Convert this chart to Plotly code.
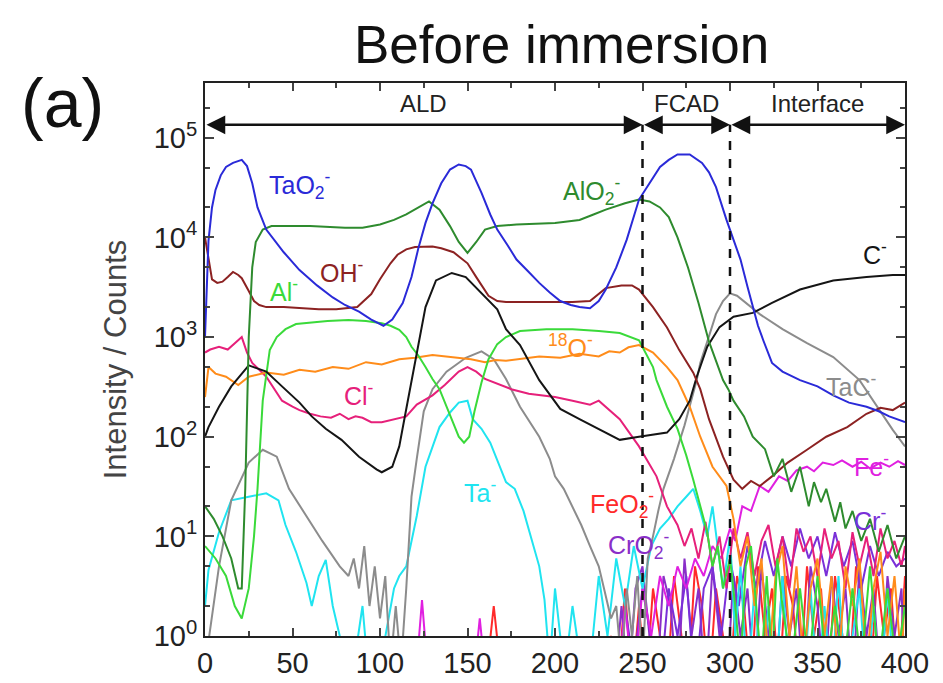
import plotly.graph_objects as go

# ---------------- data (depth, counts) ----------------
tao2_x = [0, 2, 4, 6, 9, 12, 16, 21, 24, 27, 30, 35, 45, 54, 64, 73, 80, 88, 95, 102, 107, 113, 118, 122, 126, 130, 135, 140, 145, 149, 152, 158, 163, 167, 173, 178, 185, 191, 197, 203, 209, 214, 220, 225, 229, 235, 241, 248, 254, 260, 265, 270, 277, 284, 288, 292, 298, 302, 306, 310, 313, 316, 319, 324, 330, 340, 350, 359, 368, 378, 385, 391, 400]
tao2_y = [1000, 9300, 20000, 30000, 42000, 51000, 56000, 60000, 52000, 35000, 20000, 12000, 7100, 4700, 3300, 2500, 2100, 1800, 1500, 1300, 1500, 2200, 4000, 7900, 14000, 22000, 35000, 48000, 54000, 52000, 48000, 28000, 17000, 12000, 8300, 6000, 4500, 3500, 2800, 2300, 2100, 2000, 1950, 2300, 3000, 5000, 9500, 24000, 35000, 51000, 60000, 68000, 68000, 56000, 45000, 32000, 15000, 9500, 6000, 3200, 2000, 1300, 930, 550, 450, 370, 320, 260, 220, 200, 180, 160, 140]

alo2_x = [0, 5, 10, 15, 19, 21, 23, 25, 27, 29, 33, 38, 45, 60, 80, 90, 100, 108, 115, 120, 128, 134, 140, 145, 150, 155, 160, 167, 178, 200, 214, 222, 229, 240, 248, 254, 260, 265, 270, 276, 282, 288, 293, 296, 299, 302, 308, 313, 320, 325, 330, 335, 340, 345, 348, 352, 355, 360, 363, 366, 370, 375, 380, 385, 390, 395, 400]
alo2_y = [20, 15, 10, 6, 3, 3, 30, 1000, 5000, 9000, 12000, 13000, 13000, 13000, 12500, 12500, 13500, 15000, 17000, 19000, 23000, 19000, 13000, 9000, 7000, 9000, 12000, 13000, 13500, 14000, 15000, 17000, 19000, 22000, 24000, 23000, 20000, 16000, 10000, 5000, 2200, 900, 500, 370, 300, 230, 160, 100, 75, 40, 60, 28, 50, 20, 35, 22, 30, 14, 22, 12, 18, 9, 15, 7, 13, 6, 10]

al_x = [0, 6, 12, 17, 21, 25, 28, 30, 33, 37, 41, 46, 52, 60, 70, 82, 92, 101, 106, 111, 115, 118, 122, 126, 130, 134, 138, 142, 145, 148, 151, 154, 158, 162, 167, 172, 180, 195, 210, 225, 237, 248, 256, 258, 264, 270, 275, 279, 283, 287, 290, 293, 296, 300, 303, 306, 309, 312, 315, 318, 321, 324, 327, 330, 335, 340, 345, 350, 355, 360, 365, 370, 375, 380, 385, 390, 395, 400]
al_y = [8, 6, 4, 2, 1.5, 3, 10, 30, 230, 740, 1000, 1200, 1350, 1400, 1450, 1480, 1450, 1380, 1300, 1180, 1000, 800, 650, 500, 380, 300, 200, 130, 100, 87, 100, 180, 350, 600, 850, 1000, 1150, 1200, 1200, 1150, 1100, 930, 500, 370, 200, 120, 65, 37, 20, 11, 5, 8, 3, 6, 2, 0.5, 5, 8, 2, 0.5, 4, 0.5, 6, 2, 0.5, 3, 0.5, 4, 0.5, 2, 0.5, 3, 0.5, 5, 0.5, 3, 0.5, 2]

oh_x = [0, 2, 4, 7, 10, 13, 16, 19, 21, 25, 28, 31, 35, 45, 55, 65, 75, 82, 87, 95, 100, 106, 110, 115, 120, 130, 135, 142, 150, 155, 162, 167, 172, 190, 210, 220, 229, 238, 244, 248, 256, 264, 271, 279, 283, 288, 296, 302, 307, 312, 317, 324, 333, 344, 355, 367, 378, 386, 393, 400]
oh_y = [10000, 6000, 3800, 3500, 3600, 4000, 4500, 4200, 3900, 2900, 2300, 2100, 2000, 2000, 1950, 1900, 1900, 1950, 2000, 2700, 3800, 5500, 6700, 7600, 8000, 8100, 7800, 7100, 5500, 4000, 2600, 2300, 2250, 2250, 2250, 2300, 3100, 3300, 3300, 3000, 2000, 1250, 740, 440, 300, 150, 63, 37, 30, 36, 32, 40, 55, 74, 100, 125, 170, 195, 185, 220]

c_x = [0, 2, 8, 15, 25, 35, 44, 54, 61, 69, 78, 88, 98, 101, 107, 111, 115, 121, 126, 132, 141, 149, 158, 167, 172, 180, 191, 203, 214, 225, 237, 248, 256, 264, 271, 277, 281, 287, 294, 302, 313, 324, 340, 359, 378, 393, 400]
c_y = [100, 125, 200, 320, 520, 450, 320, 220, 160, 120, 93, 63, 47, 44, 50, 80, 190, 690, 2000, 3700, 4400, 4000, 2750, 1900, 1200, 830, 370, 190, 150, 120, 93, 100, 105, 110, 150, 230, 400, 800, 1260, 1600, 1750, 2200, 3000, 3700, 4000, 4200, 4200]

tac_x = [0, 8, 15, 25, 33, 41, 48, 58, 67, 77, 82, 85, 88, 91, 94, 97, 100, 103, 106, 109, 112, 115, 118, 121, 125, 130, 138, 149, 158, 165, 172, 180, 191, 197, 200, 205, 210, 215, 220, 225, 228, 232, 235, 238, 241, 244, 247, 250, 253, 256, 259, 262, 268, 274, 281, 283, 287, 292, 296, 300, 304, 307, 317, 330, 344, 359, 374, 393, 400]
tac_y = [0.5, 5, 23, 55, 74, 63, 30, 16, 9, 5, 4, 6, 3, 8, 2, 5, 1.5, 4, 0.5, 2, 0.5, 3, 25, 60, 180, 300, 450, 620, 720, 600, 380, 200, 100, 60, 40, 30, 20, 13, 8, 5, 3, 1.5, 2, 0.5, 3, 1, 4, 0.5, 6, 10, 18, 30, 60, 130, 370, 550, 900, 1700, 2300, 2750, 2600, 2350, 1700, 1200, 870, 630, 370, 117, 80]

o18_x = [0, 2, 6, 12, 19, 25, 35, 45, 54, 63, 73, 82, 92, 101, 111, 120, 130, 137, 145, 152, 160, 166, 172, 181, 191, 203, 214, 225, 231, 237, 242, 248, 256, 264, 270, 277, 283, 290, 298, 302, 306, 310, 314, 318, 322, 326, 330, 334, 338, 342, 346, 350, 354, 358, 362, 366, 370, 374, 378, 382, 386, 390, 394, 398, 400]
o18_y = [250, 500, 430, 400, 330, 400, 440, 420, 470, 450, 500, 480, 560, 530, 600, 620, 660, 640, 620, 600, 560, 590, 580, 610, 640, 620, 680, 640, 720, 700, 790, 830, 700, 500, 370, 200, 100, 50, 32, 15, 5, 10, 2, 6, 0.5, 4, 8, 1, 5, 0.5, 3, 6, 1, 4, 0.5, 5, 2, 6, 0.5, 3, 7, 1, 4, 0.5, 3]

cl_x = [0, 3, 8, 13, 18, 21, 24, 27, 35, 44, 50, 54, 60, 66, 72, 77, 82, 86, 90, 95, 101, 108, 115, 121, 130, 137, 145, 150, 155, 160, 167, 175, 185, 200, 210, 220, 225, 237, 248, 258, 264, 270, 274, 278, 282, 286, 290, 294, 298, 302, 306, 310, 314, 318, 322, 326, 330, 334, 338, 342, 346, 350, 354, 358, 362, 366, 370, 374, 378, 382, 386, 390, 394, 398, 400]
cl_y = [700, 750, 800, 750, 900, 1000, 700, 550, 400, 230, 200, 185, 170, 160, 155, 170, 150, 160, 155, 140, 140, 150, 160, 210, 260, 330, 450, 500, 450, 380, 340, 300, 270, 250, 230, 210, 230, 150, 80, 40, 20, 13, 8, 12, 6, 14, 5, 10, 3, 12, 6, 11, 4, 9, 13, 5, 10, 3, 12, 7, 10, 4, 12, 6, 9, 3, 11, 5, 10, 4, 12, 6, 9, 5, 8]

ta_x = [0, 2, 8, 15, 25, 35, 42, 46, 52, 58, 61, 65, 69, 73, 77, 80, 85, 90, 93, 100, 108, 111, 115, 121, 126, 134, 140, 145, 150, 153, 158, 163, 172, 177, 182, 187, 191, 194, 197, 200, 203, 206, 210, 215, 220, 225, 230, 235, 240, 245, 250, 255, 260, 265, 270, 275, 279, 283, 287, 290, 293, 296, 300, 303, 306, 310, 314, 318, 322, 326, 330, 334, 338, 342, 346, 350, 354, 358, 362, 366, 370, 374, 378, 382, 386, 390, 394, 398, 400]
ta_y = [2, 4.6, 11, 23, 25, 27, 23, 13, 7, 3.4, 2, 4, 5.8, 2, 1, 0.5, 0.5, 2, 0.5, 0.5, 3, 4, 5, 16, 50, 125, 175, 220, 230, 150, 120, 87, 35, 30, 18, 9, 5, 2.3, 0.5, 3, 1, 0.5, 2, 0.5, 0.5, 4, 1, 6, 2, 8, 3, 8, 12, 15, 20, 25, 30, 18, 10, 20, 8, 3, 10, 1, 5, 0.3, 3, 0.3, 2, 0.3, 4, 0.3, 1, 0.3, 3, 0.3, 2, 0.3, 4, 0.3, 1, 3, 0.3, 2, 0.3, 3, 0.3, 1, 0.3]

feo2_x = [0, 160, 165, 170, 228, 232, 236, 240, 244, 248, 252, 256, 260, 264, 268, 272, 276, 280, 284, 288, 292, 296, 300, 304, 308, 312, 316, 320, 324, 328, 332, 336, 340, 344, 348, 352, 356, 360, 364, 368, 372, 376, 380, 384, 388, 392, 396, 400]
feo2_y = [0.3, 0.3, 2, 0.3, 0.3, 1, 0.3, 3, 0.3, 2, 0.3, 3, 1, 0.3, 4, 1, 0.3, 5, 2, 0.3, 3, 1, 0.3, 4, 2, 0.3, 5, 1, 3, 0.3, 4, 2, 0.3, 5, 1, 3, 0.3, 4, 1, 0.3, 5, 2, 0.3, 4, 1, 3, 0.3, 4]

cro2_x = [0, 234, 238, 242, 246, 250, 254, 258, 262, 266, 270, 274, 278, 282, 286, 290, 294, 298, 302, 306, 310, 314, 318, 322, 326, 330, 334, 338, 342, 346, 350, 354, 358, 362, 366, 370, 374, 378, 382, 386, 390, 394, 398, 400]
cro2_y = [0.3, 0.3, 2, 0.3, 3, 5, 1, 0.3, 4, 2, 0.3, 6, 1, 3, 0.3, 5, 1, 0.3, 4, 1, 3, 0.3, 5, 1, 0.3, 4, 1, 3, 0.3, 5, 2, 0.3, 4, 1, 3, 0.3, 5, 1, 3, 0.3, 4, 1, 3, 0.3]

cr_x = [0, 236, 240, 245, 250, 255, 260, 265, 270, 275, 280, 285, 290, 295, 300, 305, 310, 315, 320, 325, 330, 335, 340, 345, 350, 355, 360, 365, 370, 375, 380, 385, 390, 395, 400]
cr_y = [0.3, 0.3, 2, 0.5, 3, 1, 0.3, 3, 1, 4, 0.3, 3, 5, 1, 6, 2, 8, 3, 9, 4, 10, 5, 12, 6, 10, 4, 11, 5, 9, 3, 8, 4, 7, 5, 6]

fe_x = [0, 120, 124, 128, 153, 157, 161, 232, 236, 240, 245, 250, 255, 260, 265, 270, 275, 280, 285, 290, 295, 300, 303, 307, 312, 317, 322, 328, 333, 338, 344, 348, 353, 359, 364, 370, 375, 380, 386, 391, 396, 400]
fe_y = [0.3, 0.3, 2.3, 0.3, 0.3, 1.5, 0.3, 0.3, 0.3, 2, 0.3, 3, 1, 4, 2, 5, 3, 6, 4, 8, 6, 12, 9, 20, 18, 32, 28, 40, 36, 46, 50, 45, 55, 52, 58, 50, 56, 48, 55, 50, 57, 52]

# tick labels
ytick_vals = [1, 10, 100, 1000, 10000, 100000]
ytick_text = ["10<sup>0</sup>", "10<sup>1</sup>", "10<sup>2</sup>", "10<sup>3</sup>", "10<sup>4</sup>", "10<sup>5</sup>"]
xtick_vals = [0, 50, 100, 150, 200, 250, 300, 350, 400]

# region boundaries (depth)
regions = [("ALD", 0, 250), ("FCAD", 250, 300), ("Interface", 300, 400)]

# ---------------- figure ----------------
series = [
    ("FeO2", feo2_x, feo2_y, "#ff2a2a"),
    ("CrO2", cro2_x, cro2_y, "#8a2fc8"),
    ("Cr", cr_x, cr_y, "#7a30d8"),
    ("Fe", fe_x, fe_y, "#e020e0"),
    ("Ta", ta_x, ta_y, "#20e4f0"),
    ("TaC", tac_x, tac_y, "#8c8c8c"),
    ("Cl", cl_x, cl_y, "#e6207a"),
    ("18O", o18_x, o18_y, "#ff8c1a"),
    ("Al", al_x, al_y, "#3ada3a"),
    ("C", c_x, c_y, "#151515"),
    ("OH", oh_x, oh_y, "#8c2222"),
    ("AlO2", alo2_x, alo2_y, "#2e8b2e"),
    ("TaO2", tao2_x, tao2_y, "#2a2ad8"),
]

fig = go.Figure()
for name, xs, ys, col in series:
    fig.add_trace(go.Scatter(x=xs, y=ys, mode="lines", name=name,
                             line=dict(color=col, width=2), showlegend=False))

FONT = "Liberation Sans, Arial, sans-serif"
YMAX = 5.55
OFF = 8  # page body margin
W, H = 943 - OFF, 683 - OFF
# plot area in screen pixels: x 205..905, y 83..636
L, T = 205 - OFF, 83 - OFF
R, B = W - (905 - OFF), H - (636 - OFF)
PW, PH = W - L - R, H - T - B


def px2paper(px, py):
    # screen pixel -> paper coords
    return (px - OFF - L) / PW, (H - B - (py - OFF)) / PH


anns = []
labels = [
    ("TaO<sub>2</sub><sup>-</sup>", 54, 4.53, "#2a2ad8"),
    ("AlO<sub>2</sub><sup>-</sup>", 221, 4.47, "#2e8b2e"),
    ("OH<sup>-</sup>", 78, 3.66, "#8c2222"),
    ("C<sup>-</sup>", 383, 3.84, "#151515"),
    ("Al<sup>-</sup>", 45, 3.47, "#3ada3a"),
    ("<sup>18</sup>O<sup>-</sup>", 209, 2.91, "#ff8c1a"),
    ("Cl<sup>-</sup>", 88, 2.43, "#e6207a"),
    ("TaC<sup>-</sup>", 369, 2.52, "#8c8c8c"),
    ("Ta<sup>-</sup>", 157, 1.46, "#20e4f0"),
    ("FeO<sub>2</sub><sup>-</sup>", 238, 1.32, "#ff2a2a"),
    ("CrO<sub>2</sub><sup>-</sup>", 248, 0.91, "#8a2fc8"),
    ("Fe<sup>-</sup>", 381, 1.72, "#e020e0"),
    ("Cr<sup>-</sup>", 380, 1.17, "#7a30d8"),
]
for txt, lx, ly, col in labels:
    anns.append(dict(x=lx, y=ly, xref="x", yref="y", text=txt, showarrow=False,
                     font=dict(family=FONT, size=25, color=col)))

ARROW_Y = 5.13
for name, a, b in regions:
    anns.append(dict(x=b, y=ARROW_Y, ax=a, ay=ARROW_Y, xref="x", yref="y",
                     axref="x", ayref="y", text="", showarrow=True,
                     arrowhead=2, arrowside="end+start", arrowsize=1.5,
                     arrowwidth=2.5, arrowcolor="#111"))
    anns.append(dict(x=(a + b) / 2, y=5.34, xref="x", yref="y", text=name,
                     showarrow=False, font=dict(family=FONT, size=24, color="#222")))

tx, ty = px2paper(561, 45)
anns.append(dict(x=tx, y=ty, xref="paper", yref="paper", text="Before immersion",
                 xanchor="center", yanchor="middle",
                 showarrow=False, font=dict(family=FONT, size=53, color="#111")))
ax_, ay_ = px2paper(62, 103)
anns.append(dict(x=ax_, y=ay_, xref="paper", yref="paper", text="(a)",
                 xanchor="center", yanchor="middle",
                 showarrow=False, font=dict(family=FONT, size=68, color="#111")))

shapes = []
for xv in (250, 300):
    shapes.append(dict(type="line", xref="x", yref="paper", x0=xv, x1=xv,
                       y0=0, y1=ARROW_Y / YMAX,
                       line=dict(color="#111", width=2.5, dash="dash")))

fig.update_layout(
    width=W, height=H,
    margin=dict(l=L, r=R, t=T, b=B, autoexpand=False),
    paper_bgcolor="white", plot_bgcolor="white",
    font=dict(family=FONT, size=28, color="#222"),
    annotations=anns, shapes=shapes,
)
fig.update_xaxes(range=[0, 400], tickvals=xtick_vals, ticks="inside", ticklen=8,
                 tickwidth=1.5, mirror="ticks", showline=True, linecolor="#222",
                 linewidth=2, showgrid=False, zeroline=False, automargin=False,
                 minor=dict(ticks="inside", ticklen=5, dtick=25, showgrid=False),
                 tickfont=dict(family=FONT, size=29, color="#222"))
fig.update_yaxes(type="log", range=[0, YMAX], tickvals=ytick_vals, ticktext=ytick_text,
                 ticks="inside", ticklen=9, tickwidth=1.5, mirror="ticks", showline=True,
                 linecolor="#222", linewidth=2, showgrid=False, zeroline=False,
                 automargin=False,
                 minor=dict(ticks="inside", ticklen=5, showgrid=False),
                 tickfont=dict(family=FONT, size=29, color="#222"),
                 title=dict(text="Intensity / Counts", standoff=18,
                            font=dict(family=FONT, size=31, color="#444")))

fig.write_html("out.html")
